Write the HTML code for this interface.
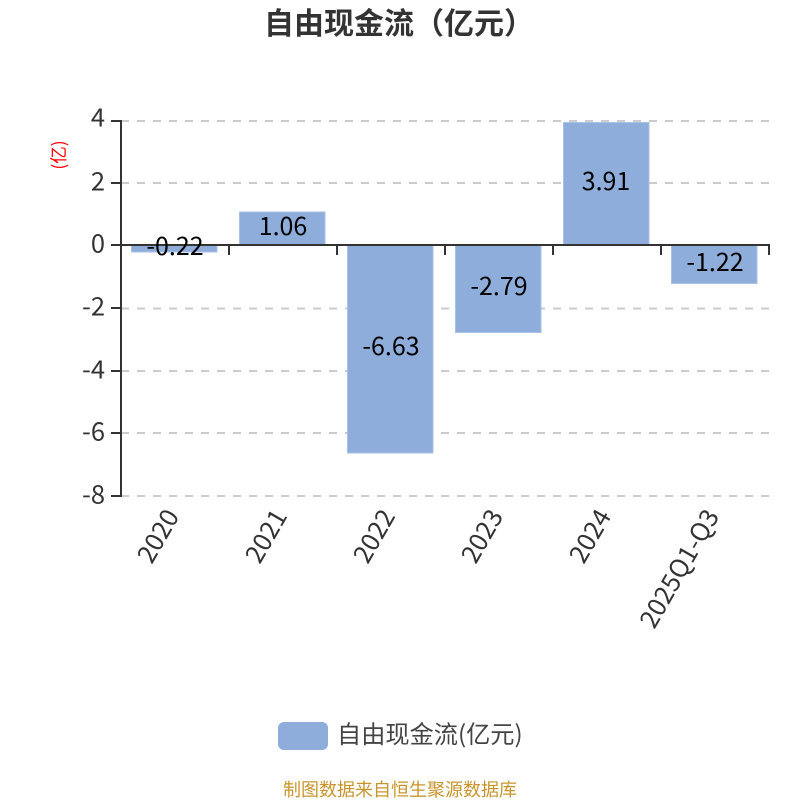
<!DOCTYPE html>
<html><head><meta charset="utf-8"><style>html,body{margin:0;padding:0;background:#fff}svg{display:block}text{font-family:"Liberation Sans","Noto Sans CJK SC",sans-serif}.n{font-family:"Noto Sans CJK SC","Liberation Sans",sans-serif}</style></head><body>
<svg xmlns="http://www.w3.org/2000/svg" width="800" height="800" viewBox="0 0 800 800">
<text x="399" y="34" text-anchor="middle" class="n" font-size="30" font-weight="700" fill="#333">自由现金流（亿元）</text>
<g stroke="#ccc" stroke-width="2" stroke-dasharray="8 8" fill="none">
<path d="M121 121H769M121 183H769M121 308.500H769M121 371H769M121 433H769M121 496H769"/>
</g>
<g fill="#8eadda" stroke="#a9c1e4" stroke-width="1">
<rect x="131.500" y="245" width="85.500" height="7"/>
<rect x="239.500" y="212" width="85.500" height="33"/>
<rect x="347.500" y="245" width="85.500" height="208"/>
<rect x="455.500" y="245" width="85.500" height="87.500"/>
<rect x="563.500" y="122.500" width="85.500" height="122.500"/>
<rect x="671.500" y="245" width="85.500" height="38.500"/>
</g>
<g stroke="#333" stroke-width="2" fill="none">
<path d="M121 120V497"/>
<path d="M111 121H121M111 183H121M111 245H121M111 308H121M111 371H121M111 433H121M111 496H121"/>
<path d="M121 245H770"/>
<path d="M229 245V255M337 245V255M445 245V255M553 245V255M661 245V255M769 245V255"/>
</g>
<g font-size="25.500" fill="#333" text-anchor="end">
<text class="n" x="105" y="126.500">4</text>
<text class="n" x="105" y="190.500">2</text>
<text class="n" x="105" y="252.500">0</text>
<text class="n" x="105" y="315.500">-2</text>
<text class="n" x="105" y="378.500">-4</text>
<text class="n" x="105" y="440.500">-6</text>
<text class="n" x="105" y="503.500">-8</text>
</g>
<text class="n" transform="translate(65 155) rotate(-90)" text-anchor="middle" font-size="17.500" fill="#f00">(亿)</text>
<g font-size="25" fill="#000" text-anchor="middle">
<text class="n" x="175" y="255">-0.22</text>
<text class="n" x="283" y="235">1.06</text>
<text class="n" x="391" y="355">-6.63</text>
<text class="n" x="499" y="295">-2.79</text>
<text class="n" x="606" y="190">3.91</text>
<text class="n" x="715" y="271">-1.22</text>
</g>
<g font-size="25.500" fill="#333" text-anchor="end">
<text class="n" transform="translate(180 516) rotate(-60)">2020</text>
<text class="n" transform="translate(288 516) rotate(-60)">2021</text>
<text class="n" transform="translate(396 516) rotate(-60)">2022</text>
<text class="n" transform="translate(504 516) rotate(-60)">2023</text>
<text class="n" transform="translate(612 516) rotate(-60)">2024</text>
<text class="n" transform="translate(720 516) rotate(-60)">2025Q1-Q3</text>
</g>
<rect x="278" y="722" width="50" height="28" rx="6" fill="#8eadda"/>
<text class="n" x="337" y="743" font-size="24.200" fill="#444">自由现金流(亿元)</text>
<text class="n" x="400" y="796" text-anchor="middle" font-size="18" fill="#c8952c">制图数据来自恒生聚源数据库</text>
</svg>
</body></html>
